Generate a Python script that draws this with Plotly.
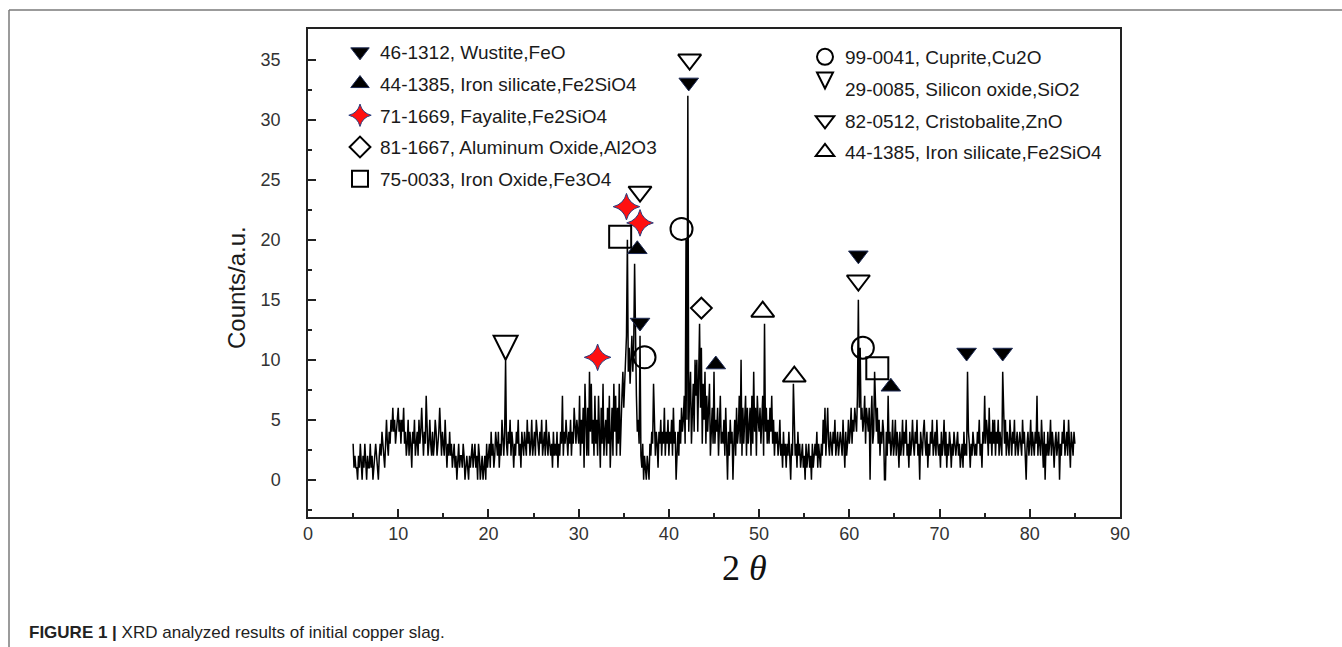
import numpy as np
import plotly.graph_objects as go

# ---------------- data ----------------
theta_start = 5.0
theta_step = 0.1

counts_05_14 = [3,1,2,1,1,0,2,1,3,1, 0,2,1,3,1,0,2,1,1,3, 1,2,0,1,2,3,2,1,0,2,
                3,2,4,3,2,1,3,5,3,2, 4,3,5,4,6,4,5,3,4,5, 6,4,5,3,5,4,6,3,4,2,
                3,5,2,4,3,1,4,3,5,2, 3,4,2,5,3,4,6,3,2,4, 3,7,4,2,3,5,3,2,4,2,
                3,5,4,2,3,4,6,3,2,4]
counts_15_24 = [3,2,5,3,1,3,2,4,2,3, 1,2,3,1,2,0,2,3,1,2, 2,1,3,2,0,1,2,1,0,2,
                1,2,3,1,2,3,1,2,0,3, 2,0,1,2,0,1,2,0,3,1, 2,3,1,4,2,3,1,2,4,3,
                2,4,1,3,2,5,3,2,4,10, 3,2,4,3,5,2,4,3,1,3, 2,4,3,5,2,3,1,4,3,2,
                4,3,2,5,3,4,2,3,5,2]
counts_25_34 = [3,4,2,5,4,3,2,4,3,5, 2,3,4,2,5,3,2,4,3,2, 3,1,4,2,3,2,4,1,3,2,
                4,3,7,2,4,3,5,3,2,4, 3,5,2,4,3,6,4,3,5,4, 3,7,2,5,3,6,1,8,4,2,
                6,2,9,4,8,3,5,2,7,3, 5,2,7,4,1,6,3,8,2,4, 5,2,6,3,7,1,4,6,2,8,
                4,7,2,6,3,8,2,6,7,9]
counts_35_44 = [6,8,10,12,20,9,11,8,10,12, 9,11,18,10,7,4,5,3,12,2, 1,3,0,2,1,0,2,1,0,3,
                2,4,3,8,5,2,4,3,1,4, 3,5,2,4,3,6,2,4,3,5, 2,4,3,5,2,6,3,4,0,3,
                4,2,5,3,6,4,5,7,3,20, 5,32,4,7,9,3,6,8,4,10, 7,10,4,8,13,6,11,3,8,5,
                9,3,7,4,6,8,2,5,6,3]
counts_45_54 = [9,3,5,4,6,2,5,7,3,4, 3,5,2,6,3,0,4,2,5,3, 4,0,3,5,2,6,3,4,7,3,
                10,2,6,3,5,7,2,6,3,5, 6,2,7,3,9,4,6,2,7,5, 4,6,3,5,7,2,13,4,6,3,
                5,3,6,4,7,3,5,2,4,3, 4,2,3,5,2,3,1,4,2,3, 1,3,2,4,2,0,3,2,8,3,
                2,3,1,4,2,3,1,2,3,1]
counts_55_64 = [2,0,3,1,2,3,1,2,0,3, 1,2,3,2,4,1,3,2,1,3, 2,5,3,6,2,4,6,3,2,4,
                3,2,4,3,5,2,3,4,2,3, 4,3,2,5,3,1,4,2,3,5, 3,4,6,3,5,4,6,5,4,7,
                15,6,11,5,6,4,5,7,3,6, 5,4,6,0,5,7,3,4,9,5, 4,6,3,5,2,4,3,5,4,0,
                0,4,2,7,3,4,2,3,5,2]
counts_65_74 = [3,5,2,4,3,1,4,2,3,5, 2,4,3,5,2,3,1,4,2,3, 5,3,2,4,3,5,2,3,0,4,
                3,2,4,5,3,2,4,1,3,2, 4,3,5,2,3,4,2,5,3,2, 3,1,4,2,3,5,2,4,1,3,
                2,4,3,1,3,2,4,3,2,3, 4,2,3,1,2,3,1,4,2,3, 2,9,4,3,1,3,2,4,3,2,
                3,2,4,3,5,2,3,1,4,3]
counts_75_85 = [7,3,5,4,2,6,3,4,2,5, 3,5,2,4,3,5,2,4,3,2, 9,4,3,5,2,4,3,2,5,3,
                2,4,3,5,2,3,4,2,3,4, 3,2,5,3,4,2,0,3,4,2, 3,5,2,4,3,2,4,3,7,2,
                4,3,2,5,3,1,4,0,3,2, 4,2,3,5,2,4,3,1,3,4, 2,3,4,0,3,2,4,3,5,2,
                3,4,2,5,3,1,4,3,2,4, 3]

counts = (counts_05_14 + counts_15_24 + counts_25_34 + counts_35_44 +
          counts_45_54 + counts_55_64 + counts_65_74 + counts_75_85)
two_theta = np.round(theta_start + theta_step * np.arange(len(counts)), 1)

# phase identification marks (2theta, height)
wustite_x = [42.2, 36.8, 61.0, 73.0, 77.0]
wustite_y = [33.1, 13.1, 18.7, 10.6, 10.6]
fe2sio4_filled_x = [36.5, 45.2, 64.6]
fe2sio4_filled_y = [19.2, 9.6, 7.75]
fayalite_x = [35.3, 36.8, 32.1]
fayalite_y = [22.75, 21.4, 10.2]
alumina_x = [43.6]
alumina_y = [14.3]
magnetite_x = [34.6, 63.1]
magnetite_y = [20.25, 9.3]
cuprite_x = [37.3, 41.4, 61.5]
cuprite_y = [10.2, 20.9, 11.0]
silica_x = [21.9]
silica_y = [10.0]
zincite_x = [42.3, 36.8, 61.0]
zincite_y = [35.0, 24.0, 16.6]
fe2sio4_open_x = [50.4, 53.9]
fe2sio4_open_y = [14.0, 8.6]

names_left = ["46-1312, Wustite,FeO", "44-1385, Iron silicate,Fe2SiO4",
              "71-1669, Fayalite,Fe2SiO4", "81-1667, Aluminum Oxide,Al2O3",
              "75-0033, Iron Oxide,Fe3O4"]
names_right = ["99-0041, Cuprite,Cu2O", "29-0085, Silicon oxide,SiO2",
               "82-0512, Cristobalite,ZnO", "44-1385, Iron silicate,Fe2SiO4"]

# ---------------- figure ----------------
W, H = 1342, 647
L, R, T, B = 308, 1120, 29, 517

def px_x(p):
    return (p - L) / (R - L)

def px_y(p):
    return (B - p) / (B - T)

fig = go.Figure()
fig.add_trace(go.Scatter(x=two_theta, y=counts, mode="lines",
                         line=dict(color="black", width=1.5), showlegend=False,
                         hoverinfo="skip"))

edge = "#1e2b55"
specs = [
    (wustite_x, wustite_y, names_left[0], "legend",
     dict(symbol="triangle-down", size=17, color="black", line=dict(color=edge, width=1))),
    (fe2sio4_filled_x, fe2sio4_filled_y, names_left[1], "legend",
     dict(symbol="triangle-up", size=17, color="black", line=dict(color=edge, width=1))),
    (fayalite_x, fayalite_y, names_left[2], "legend",
     dict(symbol="star-diamond", size=19, color="#ff1010", line=dict(color="#2a3f80", width=1))),
    (alumina_x, alumina_y, names_left[3], "legend",
     dict(symbol="diamond-open", size=16, color="black", line=dict(color="black", width=2))),
    (magnetite_x, magnetite_y, names_left[4], "legend",
     dict(symbol="square-open", size=22, color="black", line=dict(color="black", width=2))),
    (cuprite_x, cuprite_y, names_right[0], "legend2",
     dict(symbol="circle-open", size=22, color="black", line=dict(color="black", width=2))),
    (silica_x, silica_y, names_right[1], "legend2",
     dict(symbol="arrow-down-open", size=24, color="black", line=dict(color="black", width=2))),
    (zincite_x, zincite_y, names_right[2], "legend2",
     dict(symbol="triangle-down-open", size=20, color="black", line=dict(color="black", width=2))),
    (fe2sio4_open_x, fe2sio4_open_y, names_right[3], "legend2",
     dict(symbol="triangle-up-open", size=20, color="black", line=dict(color="black", width=2))),
]
for i, (xs, ys, nm, lg, mk) in enumerate(specs):
    fig.add_trace(go.Scatter(x=xs, y=ys, mode="markers", name=nm, marker=mk,
                             legend=lg, legendgroup=f"g{i}", cliponaxis=False,
                             hoverinfo="skip"))

tick_font = dict(family="Liberation Sans, Arial, sans-serif", size=18, color="#333333")
axis_common = dict(showline=True, linecolor="#222222", linewidth=1.5, mirror=True,
                   ticks="inside", tickcolor="#222222", tickwidth=1.5, ticklen=8,
                   showgrid=False, zeroline=False, tickfont=tick_font)
legend_font = dict(family="Liberation Sans, Arial, sans-serif", size=19, color="#1a1a1a")

fig.update_layout(
    width=W, height=H,
    margin=dict(l=L, r=W - R, t=T, b=H - B),
    paper_bgcolor="white", plot_bgcolor="white",
    font=dict(family="Liberation Sans, Arial, sans-serif", color="#1a1a1a"),
    xaxis=dict(range=[0, 90], tick0=0, dtick=10,
               minor=dict(dtick=5, ticks="inside", ticklen=4, tickcolor="#222222", tickwidth=1.5),
               ticklabelstandoff=0, **axis_common),
    yaxis=dict(range=[-3.1, 37.55], tick0=0, dtick=5,
               minor=dict(dtick=2.5, ticks="inside", ticklen=4, tickcolor="#222222", tickwidth=1.5),
               ticklabelstandoff=22, **axis_common),
    legend=dict(x=px_x(340), y=px_y(33), xanchor="left", yanchor="top",
                bgcolor="rgba(0,0,0,0)", tracegroupgap=4, itemsizing="trace",
                font=legend_font),
    legend2=dict(x=px_x(805), y=px_y(38), xanchor="left", yanchor="top",
                 bgcolor="rgba(0,0,0,0)", tracegroupgap=4, itemsizing="trace",
                 font=legend_font),
    annotations=[
        dict(text="Counts/a.u.", x=px_x(236), y=px_y(288), xref="paper", yref="paper",
             showarrow=False, textangle=-90, xanchor="center", yanchor="middle",
             font=dict(family="Liberation Sans, Arial, sans-serif", size=24, color="#1a1a1a")),
        dict(text="2 <i>θ</i>", x=px_x(744), y=px_y(568), xref="paper", yref="paper",
             showarrow=False, xanchor="center", yanchor="middle",
             font=dict(family="Liberation Serif, Times New Roman, serif", size=36, color="#111111")),
        dict(text="<b>FIGURE 1 |</b> XRD analyzed results of initial copper slag.",
             x=px_x(27), y=px_y(632), xref="paper", yref="paper", showarrow=False,
             xanchor="left", yanchor="middle",
             font=dict(family="Liberation Sans, Arial, sans-serif", size=17, color="#222222")),
    ],
    shapes=[
        dict(type="line", xref="paper", yref="paper", x0=px_x(9), x1=px_x(W + 5),
             y0=px_y(10), y1=px_y(10), line=dict(color="#7a7a7a", width=1.5)),
        dict(type="line", xref="paper", yref="paper", x0=px_x(9), x1=px_x(9),
             y0=px_y(10), y1=px_y(H + 5), line=dict(color="#7a7a7a", width=1.5)),
    ],
    hovermode=False,
)

fig.write_html("out.html", config={"displayModeBar": False},
               post_script="document.body.style.margin='0px';")
